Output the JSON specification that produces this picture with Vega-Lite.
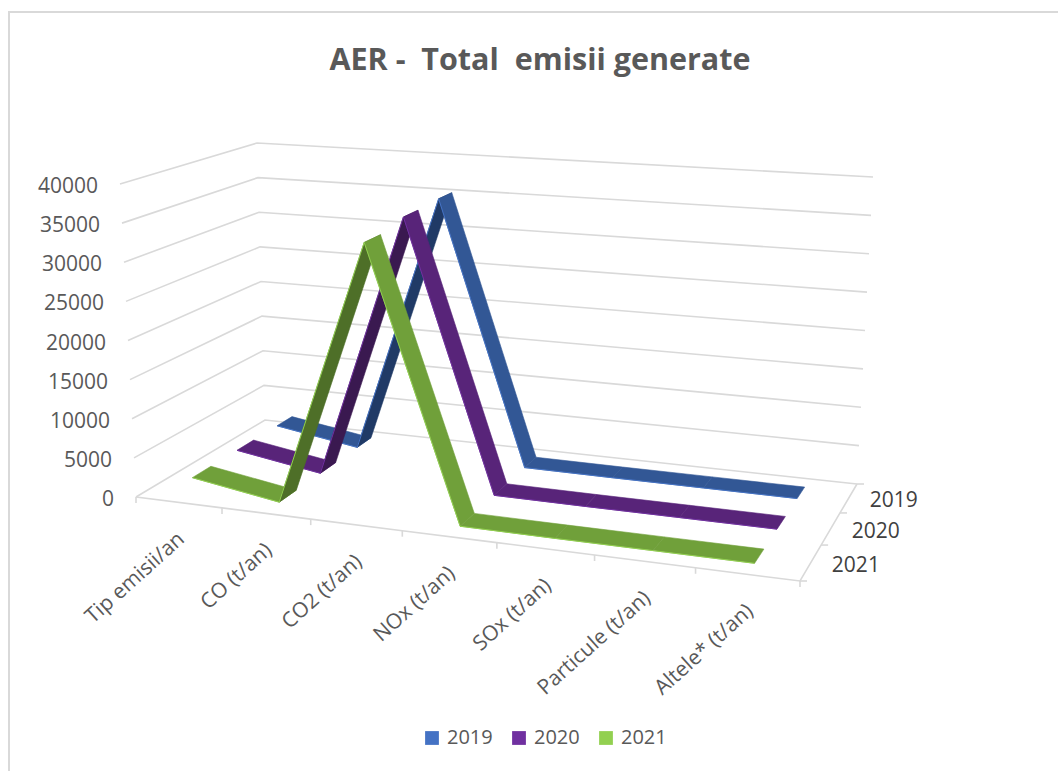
{
"$schema":"https://vega.github.io/schema/vega-lite/v6.json",
"width":1100,"height":800,"autosize":{"type":"none"},
"padding":{"left":9,"top":12,"right":0,"bottom":0},
"background":"white",
"config":{"view":{"stroke":"#d9d9d9","strokeWidth":2},"font":"Open Sans"},
"title":{"text":"AER -\u00a0 Total\u00a0 emisii generate","anchor":"middle","frame":"group","orient":"top","offset":-64,"dx":-19,"fontSize":30.5,"fontWeight":700,"color":"#595959","font":"Open Sans"},
"datasets":{
"series":[
{"category":"Tip emisii/an","year":"2019","value":2019},{"category":"CO (t/an)","year":"2019","value":250},{"category":"CO2 (t/an)","year":"2019","value":35250},{"category":"NOx (t/an)","year":"2019","value":50},{"category":"SOx (t/an)","year":"2019","value":10},{"category":"Particule (t/an)","year":"2019","value":10},{"category":"Altele* (t/an)","year":"2019","value":5},
{"category":"Tip emisii/an","year":"2020","value":2020},{"category":"CO (t/an)","year":"2020","value":250},{"category":"CO2 (t/an)","year":"2020","value":35000},{"category":"NOx (t/an)","year":"2020","value":50},{"category":"SOx (t/an)","year":"2020","value":10},{"category":"Particule (t/an)","year":"2020","value":10},{"category":"Altele* (t/an)","year":"2020","value":5},
{"category":"Tip emisii/an","year":"2021","value":2021},{"category":"CO (t/an)","year":"2021","value":250},{"category":"CO2 (t/an)","year":"2021","value":34100},{"category":"NOx (t/an)","year":"2021","value":50},{"category":"SOx (t/an)","year":"2021","value":10},{"category":"Particule (t/an)","year":"2021","value":10},{"category":"Altele* (t/an)","year":"2021","value":5}
],
"levels":[{"value":0},{"value":5000},{"value":10000},{"value":15000},{"value":20000},{"value":25000},{"value":30000},{"value":35000},{"value":40000}],
"categories":[{"category":"Tip emisii/an"},{"category":"CO (t/an)"},{"category":"CO2 (t/an)"},{"category":"NOx (t/an)"},{"category":"SOx (t/an)"},{"category":"Particule (t/an)"},{"category":"Altele* (t/an)"}],
"years":[{"year":"2019"},{"year":"2020"},{"year":"2021"}],
"ticks":[{"axis":"cat","k":0},{"axis":"cat","k":1},{"axis":"cat","k":2},{"axis":"cat","k":3},{"axis":"cat","k":4},{"axis":"cat","k":5},{"axis":"cat","k":6},{"axis":"cat","k":7},{"axis":"depth","k":0},{"axis":"depth","k":1},{"axis":"depth","k":2},{"axis":"depth","k":3}]
},
"encoding":{
"x":{"field":"px","type":"quantitative","scale":{"domain":[9,1109],"nice":false,"zero":false},"axis":null},
"y":{"field":"py","type":"quantitative","scale":{"domain":[812,12],"nice":false,"zero":false},"axis":null}
},
"layer":[
{"data":{"name":"levels"},
"transform":[{"calculate":"[0,1,2]","as":"pt"},{"flatten":["pt"]},{"calculate":"datum.pt==2?1:0","as":"u"},{"calculate":"datum.pt==0?0:1","as":"v"},{"calculate":"datum.value","as":"h"},
{"calculate":"datum.u/(datum.u+1.12*(1-datum.u))","as":"U"},{"calculate":"datum.v/(datum.v+0.85*(1-datum.v))","as":"V"},{"calculate":"datum.h/40000","as":"H"},
{"calculate":"136+664*datum.U+(129-72*datum.U)*datum.V+datum.H*(-16+32*datum.U+(8-8*datum.U)*datum.V)","as":"px"},
{"calculate":"497+84*datum.U+(-77-20*datum.U)*datum.V-datum.H*(313+34*datum.U+(-36-4*datum.U)*datum.V)","as":"py"}],
"mark":{"type":"line","stroke":"#d9d9d9","strokeWidth":1.6},
"encoding":{"detail":{"field":"value"},"order":{"field":"pt"}}},
{"data":{"name":"ticks"},
"transform":[{"calculate":"datum.axis=='cat'?datum.k/7:1","as":"u"},{"calculate":"datum.axis=='cat'?0:datum.k/3","as":"v"},{"calculate":"0","as":"h"},
{"calculate":"datum.u/(datum.u+1.12*(1-datum.u))","as":"U"},{"calculate":"datum.v/(datum.v+0.85*(1-datum.v))","as":"V"},{"calculate":"datum.h/40000","as":"H"},
{"calculate":"136+664*datum.U+(129-72*datum.U)*datum.V+datum.H*(-16+32*datum.U+(8-8*datum.U)*datum.V)","as":"px"},
{"calculate":"497+84*datum.U+(-77-20*datum.U)*datum.V-datum.H*(313+34*datum.U+(-36-4*datum.U)*datum.V)","as":"py"},
{"calculate":"datum.axis=='cat'?datum.k:7+datum.k","as":"seq"},
{"calculate":"datum.axis=='cat'?datum.px:datum.px+7","as":"tx"},{"calculate":"datum.axis=='cat'?datum.py+6:datum.py","as":"ty"}],
"layer":[
{"mark":{"type":"line","stroke":"#d9d9d9","strokeWidth":1.6},"encoding":{"order":{"field":"seq"}}},
{"mark":{"type":"rule","stroke":"#d9d9d9","strokeWidth":1.6},"encoding":{"x2":{"field":"tx"},"y2":{"field":"ty"}}}
]},
{"data":{"name":"series"},
"transform":[
{"calculate":"indexof(['Tip emisii/an','CO (t/an)','CO2 (t/an)','NOx (t/an)','SOx (t/an)','Particule (t/an)','Altele* (t/an)'],datum.category)","as":"i"},
{"window":[{"op":"lead","field":"value","as":"next"}],"sort":[{"field":"i","order":"ascending"}],"groupby":["year"]},
{"filter":"datum.next!=null"},
{"calculate":"[0,1,2,3]","as":"corner"},{"flatten":["corner"]},
{"calculate":"(datum.i+0.5+((datum.corner==1||datum.corner==2)?1:0))/7","as":"u"},
{"calculate":"(2021-toNumber(datum.year)+0.5)/3+(datum.corner<2?-0.067:0.067)","as":"v"},
{"calculate":"(datum.corner==1||datum.corner==2)?datum.next:datum.value","as":"h"},
{"calculate":"datum.u/(datum.u+1.12*(1-datum.u))","as":"U"},{"calculate":"datum.v/(datum.v+0.85*(1-datum.v))","as":"V"},{"calculate":"datum.h/40000","as":"H"},
{"calculate":"136+664*datum.U+(129-72*datum.U)*datum.V+datum.H*(-16+32*datum.U+(8-8*datum.U)*datum.V)","as":"px"},
{"calculate":"497+84*datum.U+(-77-20*datum.U)*datum.V-datum.H*(313+34*datum.U+(-36-4*datum.U)*datum.V)","as":"py"},
{"calculate":"datum.year+'-'+(datum.i<10?'0':'')+datum.i","as":"seg"},
{"calculate":"datum.year+(datum.next>datum.value+5000?' urcare':' panta')","as":"face"}
],
"layer":[
{"transform":[{"filter":"datum.year=='2019'"}],"mark":{"type":"line","interpolate":"linear-closed","strokeWidth":0.6,"fillOpacity":1},
"encoding":{"fill":{"field":"face","type":"nominal","scale":{"domain":["2019","2020","2021","2019 panta","2019 urcare","2020 panta","2020 urcare","2021 panta","2021 urcare"],"range":["#4472C4","#7030A0","#92D050","#325795","#203A66","#582479","#3A1950","#70A03A","#4E6F28"]},"legend":{"values":["2019","2020","2021"],"title":null,"orient":"none","legendX":413,"legendY":716,"direction":"horizontal","columns":3,"symbolType":"square","symbolSize":190,"symbolStrokeWidth":0,"labelFontSize":20,"labelColor":"#595959","labelFont":"Open Sans","columnPadding":16,"labelOffset":5}},
"stroke":{"field":"face","type":"nominal","scale":{"domain":["2019","2020","2021","2019 panta","2019 urcare","2020 panta","2020 urcare","2021 panta","2021 urcare"],"range":["#4472C4","#7030A0","#92D050","#325795","#203A66","#582479","#3A1950","#70A03A","#4E6F28"]},"legend":null},"detail":{"field":"seg"},"order":{"field":"corner"}}},
{"transform":[{"filter":"datum.year=='2019'&&datum.corner<2"}],"mark":{"type":"line","stroke":"#4472C4","strokeWidth":1},"encoding":{"detail":{"field":"seg"},"order":{"field":"corner"}}},
{"transform":[{"filter":"datum.year=='2020'"}],"mark":{"type":"line","interpolate":"linear-closed","strokeWidth":0.6,"fillOpacity":1},
"encoding":{"fill":{"field":"face","type":"nominal"},"stroke":{"field":"face","type":"nominal","legend":null},"detail":{"field":"seg"},"order":{"field":"corner"}}},
{"transform":[{"filter":"datum.year=='2020'&&datum.corner<2"}],"mark":{"type":"line","stroke":"#7030A0","strokeWidth":1},"encoding":{"detail":{"field":"seg"},"order":{"field":"corner"}}},
{"transform":[{"filter":"datum.year=='2021'"}],"mark":{"type":"line","interpolate":"linear-closed","strokeWidth":0.6,"fillOpacity":1},
"encoding":{"fill":{"field":"face","type":"nominal"},"stroke":{"field":"face","type":"nominal","legend":null},"detail":{"field":"seg"},"order":{"field":"corner"}}},
{"transform":[{"filter":"datum.year=='2021'&&datum.corner<2"}],"mark":{"type":"line","stroke":"#92D050","strokeWidth":1},"encoding":{"detail":{"field":"seg"},"order":{"field":"corner"}}}
]},
{"data":{"name":"levels"},
"transform":[{"calculate":"datum.value/40000","as":"H"},{"calculate":"136-16*datum.H-22","as":"px"},{"calculate":"497-313*datum.H+3","as":"py"}],
"mark":{"type":"text","align":"right","baseline":"middle","fontSize":21,"color":"#595959","font":"Open Sans"},
"encoding":{"text":{"field":"value","type":"nominal"}}},
{"data":{"name":"categories"},
"transform":[{"calculate":"indexof(['Tip emisii/an','CO (t/an)','CO2 (t/an)','NOx (t/an)','SOx (t/an)','Particule (t/an)','Altele* (t/an)'],datum.category)","as":"i"},
{"calculate":"(datum.i+0.5)/7","as":"u"},{"calculate":"datum.u/(datum.u+1.12*(1-datum.u))","as":"U"},
{"calculate":"136+664*datum.U+3","as":"px"},{"calculate":"497+84*datum.U+34","as":"py"}],
"mark":{"type":"text","align":"right","baseline":"middle","angle":318,"fontSize":21,"color":"#595959","font":"Open Sans"},
"encoding":{"text":{"field":"category"}}},
{"data":{"name":"years"},
"transform":[{"calculate":"(2021-toNumber(datum.year)+0.5)/3","as":"v"},{"calculate":"datum.v/(datum.v+0.85*(1-datum.v))","as":"V"},
{"calculate":"800+57*datum.V+21","as":"px"},{"calculate":"581-97*datum.V+3","as":"py"}],
"mark":{"type":"text","align":"left","baseline":"middle","fontSize":21,"color":"#404040","font":"Open Sans"},
"encoding":{"text":{"field":"year"}}}
]
}
